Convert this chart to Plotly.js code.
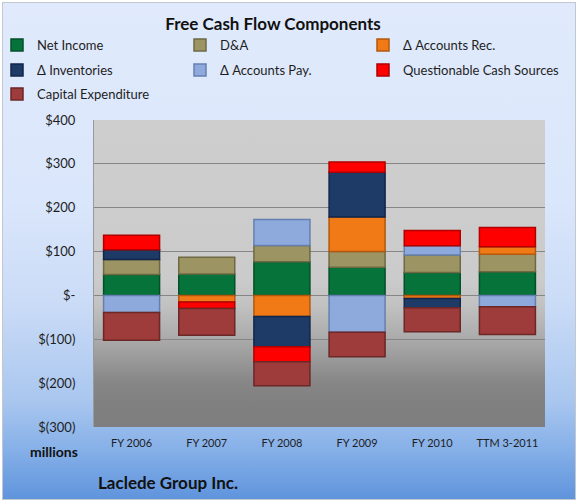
<!DOCTYPE html>
<html>
<head>
<meta charset="utf-8">
<script src="https://cdn.plot.ly/plotly-3.0.1.min.js"></script>
<style>
  html, body { margin: 0; padding: 0; background: #ffffff; }
  #wrap { position: relative; width: 578px; height: 502px; overflow: hidden; background: #ffffff; }
  #bg { position: absolute; left: 2px; top: 2px; width: 572px; height: 496px;
        border: 1px solid #c3c8cf;
        background: linear-gradient(to bottom, #e0eafc 0%, #dae6fb 40%, #cbdcf7 60%, #aac7ef 80%, #86b0e8 90%, #5f94dc 100%); }
  #chart { position: absolute; left: 0; top: 0; width: 578px; height: 502px; }
</style>
</head>
<body>
<div id="wrap"><div id="bg"></div><div id="chart"></div></div>
<script>
// ---- data (millions of dollars) ----
const categories   = ['FY 2006', 'FY 2007', 'FY 2008', 'FY 2009', 'FY 2010', 'TTM 3-2011'];
const netIncome    = [48, 49, 77, 64, 52, 54];
const depAmort     = [34, 38, 37, 36, 40, 40];
const accountsRec  = [null, -15, -48, 79, -7, 17];
const inventories  = [22, null, -69, 102, -21, null];
const accountsPay  = [-39, null, 59, -84, 21, -26];
const questionable = [33, -15, -34, 23, 35, 44];
const capex        = [-63, -61, -55, -56, -55, -63];
const seriesNames  = ['Net Income', 'D&A', 'Δ Accounts Rec.', 'Δ Inventories', 'Δ Accounts Pay.', 'Questionable Cash Sources', 'Capital Expenditure'];
const yTickVals    = [400, 300, 200, 100, 0, -100, -200, -300];
const yTickText    = ['$400', '$300', '$200', '$100', '$-', '$(100)', '$(200)', '$(300)'];
const chartTitle   = 'Free Cash Flow Components';
const unitLabel    = 'millions';
const companyName  = 'Laclede Group Inc.';

// ---- styles ----
const seriesValues = [netIncome, depAmort, accountsRec, inventories, accountsPay, questionable, capex];
const fillColors = ['#06733a', '#9c9462', '#f17a17', '#1d3b66', '#8eaadc', '#ff0000', '#9e3b3b'];
const edgeColors = ['#035029', '#6e6943', '#b3580d', '#11264a', '#6580b0', '#b00000', '#6c2727'];
const FONT = 'Lato, "Open Sans", "DejaVu Sans", sans-serif';

const W = 578, H = 502;
const M = { l: 94, r: 33, t: 120, b: 75 };
const PW = W - M.l - M.r, PH = H - M.t - M.b;
const px2x = (px) => (px - M.l) / PW;
const py2y = (py) => (H - M.b - py) / PH;

// legend grid: 3 columns (text start px), rows (centre px)
const legendColPx = [37, 220, 403];
const legendRowPx = [45, 70, 94];

const legends = {};
const traces = seriesNames.map((name, i) => {
  const key = i === 0 ? 'legend' : 'legend' + (i + 1);
  const col = i % 3, row = Math.floor(i / 3);
  legends[key] = {
    orientation: 'v', xanchor: 'left', yanchor: 'middle',
    x: px2x(legendColPx[col] - 40), y: py2y(legendRowPx[row]),
    bgcolor: 'rgba(0,0,0,0)', borderwidth: 0,
    font: { family: FONT, size: 13, color: '#1e1e1e' }
  };
  return {
    type: 'bar',
    name: name,
    x: categories,
    y: seriesValues[i],
    legend: key,
    marker: { color: fillColors[i], line: { color: edgeColors[i], width: 1.5 } },
    hoverinfo: 'x+y+name'
  };
});

const plotBg = 'data:image/svg+xml;utf8,' + encodeURIComponent(
  '<svg xmlns="http://www.w3.org/2000/svg" width="10" height="100" viewBox="0 0 10 100" preserveAspectRatio="none">' +
  '<defs><linearGradient id="g" x1="0" y1="0" x2="0" y2="1">' +
  '<stop offset="0" stop-color="#cecece"/>' +
  '<stop offset="0.52" stop-color="#cbcbcb"/>' +
  '<stop offset="0.6" stop-color="#c2c2c2"/>' +
  '<stop offset="0.72" stop-color="#a9a9a9"/>' +
  '<stop offset="0.85" stop-color="#878787"/>' +
  '<stop offset="0.92" stop-color="#808080"/>' +
  '<stop offset="1" stop-color="#7e7e7e"/>' +
  '</linearGradient></defs><rect x="0" y="0" width="10" height="100" fill="url(#g)"/></svg>');

const layout = Object.assign({
  width: W, height: H,
  margin: Object.assign({ autoexpand: false, pad: 0 }, M),
  paper_bgcolor: 'rgba(0,0,0,0)',
  plot_bgcolor: 'rgba(0,0,0,0)',
  barmode: 'relative',
  bargap: 0.255,
  font: { family: FONT, color: '#1e1e1e' },
  title: {
    text: chartTitle,
    font: { family: FONT, size: 17, weight: 700, color: '#111111' },
    x: 273 / W, xref: 'container', xanchor: 'center',
    y: 1 - 24 / H, yref: 'container', yanchor: 'middle'
  },
  xaxis: {
    type: 'category',
    showgrid: false, zeroline: false, showline: false,
    ticks: '', ticklabelstandoff: 8,
    tickfont: { family: FONT, size: 11, color: '#1e1e1e' },
    fixedrange: true
  },
  xaxis2: {
    overlaying: 'x', anchor: 'free', position: 300 / 700,
    range: [-0.5, categories.length - 0.5],
    tickmode: 'array',
    tickvals: categories.map((c, i) => i - 0.5).concat([categories.length - 0.5]),
    showticklabels: false, ticks: 'outside', ticklen: 3, tickcolor: '#8a8a8a', tickwidth: 1,
    showgrid: false, zeroline: false, showline: false, fixedrange: true
  },
  yaxis: {
    range: [-300, 400],
    tickmode: 'array', tickvals: yTickVals, ticktext: yTickText,
    showgrid: true, gridcolor: '#868686', gridwidth: 1,
    zeroline: true, zerolinecolor: '#868686', zerolinewidth: 1,
    showline: true, linecolor: '#9a9a9a', linewidth: 1,
    ticks: '', ticklabelstandoff: 15,
    tickfont: { family: FONT, size: 13, color: '#1e1e1e' },
    fixedrange: true
  },
  images: [{
    source: plotBg, xref: 'paper', yref: 'paper',
    x: 0, y: 1, sizex: 1, sizey: 1, xanchor: 'left', yanchor: 'top',
    sizing: 'stretch', layer: 'below'
  }],
  annotations: [
    { text: unitLabel, xref: 'paper', yref: 'paper', x: px2x(80), y: py2y(451),
      xanchor: 'right', yanchor: 'middle', showarrow: false,
      font: { family: FONT, size: 14, weight: 700, color: '#111111' } },
    { text: companyName, xref: 'paper', yref: 'paper', x: px2x(96), y: py2y(482),
      xanchor: 'left', yanchor: 'middle', showarrow: false,
      font: { family: FONT, size: 17, weight: 700, color: '#111111' } }
  ],
  showlegend: true
}, legends);

Plotly.newPlot('chart', traces, layout, { displayModeBar: false, staticPlot: true });
</script>
</body>
</html>
